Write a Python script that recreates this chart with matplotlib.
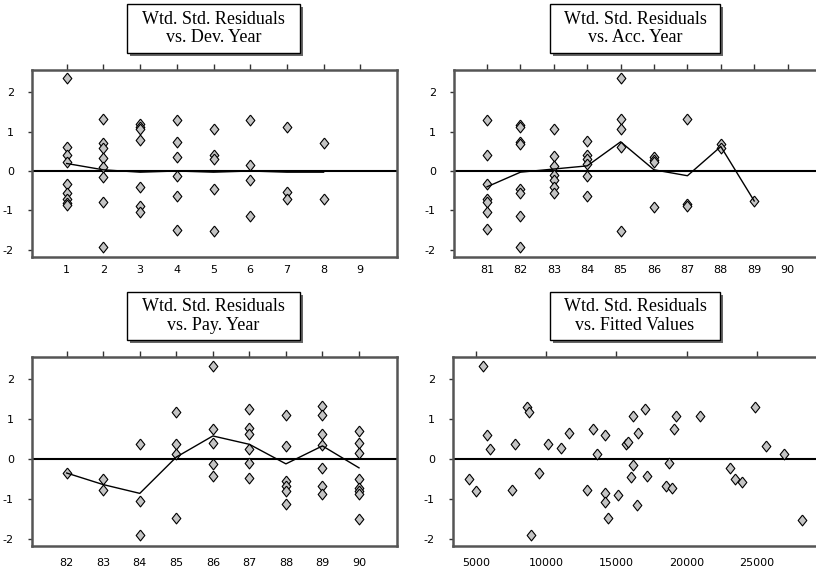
import matplotlib
matplotlib.use("Agg")
import matplotlib.pyplot as plt
from matplotlib.patches import Rectangle

W, H = 816, 574

# residuals by development year
dev_year = [1] * 9 + [2] * 8 + [3] * 7 + [4] * 6 + [5] * 5 + [6] * 4 + [7] * 3 + [8] * 2
dev_resid = [2.35, 0.60, 0.40, 0.22, -0.33, -0.55, -0.72, -0.80, -0.87,
             1.33, 0.70, 0.58, 0.32, 0.11, -0.14, -0.79, -1.93,
             1.18, 1.12, 1.07, 0.78, -0.41, -0.88, -1.05,
             1.29, 0.74, 0.35, -0.13, -0.63, -1.49,
             1.07, 0.41, 0.31, -0.45, -1.53,
             1.29, 0.14, -0.24, -1.13,
             1.12, -0.54, -0.71,
             0.70, -0.71]
dev_line_x = [1, 2, 3, 4, 5, 6, 7, 8]
dev_line_y = [0.19, 0.03, -0.03, 0.0, -0.03, 0.0, -0.03, -0.03]

# residuals by accident year
acc_year = [81] * 7 + [82] * 8 + [83] * 7 + [84] * 6 + [85] * 5 + [86] * 4 + [87] * 3 + [88] * 2 + [89]
acc_resid = [1.29, 0.40, -0.33, -0.70, -0.78, -1.05, -1.48,
             1.17, 1.12, 0.74, 0.68, -0.45, -0.55, -1.13, -1.93,
             1.07, 0.39, 0.12, -0.10, -0.24, -0.40, -0.55,
             0.77, 0.40, 0.30, 0.18, -0.12, -0.63,
             2.35, 1.31, 1.06, 0.62, -1.52,
             0.36, 0.28, 0.22, -0.90,
             1.33, -0.83, -0.88,
             0.68, 0.59,
             -0.76]
acc_line_x = [81, 82, 83, 84, 85, 86, 87, 88, 89]
acc_line_y = [-0.40, -0.03, 0.05, 0.13, 0.74, 0.03, -0.12, 0.62, -0.76]

# residuals by payment year
pay_year = [82] + [83] * 2 + [84] * 3 + [85] * 4 + [86] * 5 + [87] * 6 + [88] * 6 + [89] * 7 + [90] * 8
pay_resid = [-0.35,
             -0.50, -0.78,
             0.38, -1.06, -1.90,
             1.18, 0.38, 0.12, -1.49,
             2.33, 0.75, 0.41, -0.13, -0.43,
             1.26, 0.77, 0.63, 0.25, -0.10, -0.47,
             1.10, 0.32, -0.55, -0.68, -0.80, -1.13,
             1.34, 1.10, 0.64, 0.35, -0.22, -0.68, -0.88,
             0.70, 0.40, 0.14, -0.49, -0.72, -0.80, -0.88, -1.50]
pay_line_x = [82, 83, 84, 85, 86, 87, 88, 89, 90]
pay_line_y = [-0.35, -0.64, -0.86, 0.05, 0.58, 0.37, -0.12, 0.33, -0.22]

# residuals against fitted values
fitted = [4500, 5000, 5520, 5810, 6000, 7560, 7820, 8630, 8770, 8960, 9500,
          10140, 11040, 11610, 12890, 13340, 13630, 14170, 14220, 14220, 14430,
          15100, 15660, 15830, 16020, 16160, 16210, 16470, 16540, 17010, 17200,
          18560, 18740, 18960, 19120, 19220, 20950, 23080, 23440, 23910, 24830,
          25640, 26920, 28200]
fit_resid = [-0.51, -0.81, 2.33, 0.61, 0.25, -0.77, 0.37, 1.30, 1.17, -1.90, -0.35,
             0.37, 0.29, 0.66, -0.77, 0.75, 0.12, 0.61, -0.85, -1.07, -1.49,
             -0.89, 0.37, 0.44, -0.46, 1.08, -0.14, -1.15, 0.66, 1.26, -0.42,
             -0.68, -0.10, -0.73, 0.75, 1.08, 1.08, -0.22, -0.51, -0.58, 1.30,
             0.33, 0.12, -1.53]

plt.rcParams['axes.unicode_minus'] = False
plt.rcParams['font.family'] = 'DejaVu Sans'

# thin diamond used for every point
diamond = [(0, 1), (0.8, 0), (0, -1), (-0.8, 0), (0, 1)]

fig = plt.figure(figsize=(W / 100, H / 100), dpi=100)


def px_rect(x0, y0, x1, y1):
    # pixel box (from top-left) -> figure fraction rect
    return [x0 / W, 1 - y1 / H, (x1 - x0) / W, (y1 - y0) / H]


def panel(rect, xs, ys, xlim, ticks, line_x=None, line_y=None, pad=4):
    ax = fig.add_axes(px_rect(*rect))
    ax.axhline(0, color='black', lw=1.5, zorder=2)
    ax.plot(xs, ys, linestyle='none', marker=diamond, markersize=7.8,
            markerfacecolor='#c4c4c4', markeredgecolor='black',
            markeredgewidth=0.8, zorder=3)
    if line_x is not None:
        ax.plot(line_x, line_y, color='black', lw=1.0, zorder=4)
    ax.set_xlim(*xlim)
    ax.set_ylim(-2.18, 2.56)
    ax.set_xticks(ticks)
    ax.set_xticklabels([str(t) for t in ticks])
    ax.set_yticks([-2, -1, 0, 1, 2])
    ax.tick_params(axis='x', top=True, bottom=False, labeltop=False, labelbottom=True,
                   direction='out', length=4, width=1, color='#333333',
                   labelsize=8, pad=pad)
    ax.tick_params(axis='y', direction='out', length=3, width=1, color='#333333',
                   labelsize=8, pad=10)
    for sp in ax.spines.values():
        sp.set_color('#555555')
        sp.set_linewidth(1.8)
    return ax


def title_box(x0, y0, x1, y1, text):
    # drop shadow first, then the white box on top
    fig.patches.append(Rectangle((x0 / W + 3 / W, 1 - y1 / H - 3 / H), (x1 - x0) / W, (y1 - y0) / H,
                                 transform=fig.transFigure, facecolor='#666666',
                                 edgecolor='none', zorder=5))
    fig.patches.append(Rectangle((x0 / W, 1 - y1 / H), (x1 - x0) / W, (y1 - y0) / H,
                                 transform=fig.transFigure, facecolor='white',
                                 edgecolor='black', lw=1.0, zorder=6))
    fig.text((x0 + x1) / 2 / W, 1 - (y0 + y1) / 2 / H, text, ha='center', va='center',
             family='Liberation Serif', size=13, linespacing=1.15, zorder=7)


panel((32, 70, 397, 257), dev_year, dev_resid, (0.054, 10.0), range(1, 10),
      dev_line_x, dev_line_y, pad=2)
ax2 = panel((454, 70, 820, 257), acc_year, acc_resid, (80.01, 90.97), range(81, 91),
            acc_line_x, acc_line_y, pad=2)
panel((32, 357, 397, 546), pay_year, pay_resid, (81.05, 91.04), range(82, 91),
      pay_line_x, pay_line_y, pad=5)
ax4 = panel((453, 357, 820, 546), fitted, fit_resid, (3386, 29480),
            [5000, 10000, 15000, 20000, 25000], pad=5)
ax2.spines['right'].set_visible(False)
ax4.spines['right'].set_visible(False)

title_box(127, 4, 300, 53, "Wtd. Std. Residuals\nvs. Dev. Year")
title_box(550, 4, 720, 53, "Wtd. Std. Residuals\nvs. Acc. Year")
title_box(127, 292, 300, 340, "Wtd. Std. Residuals\nvs. Pay. Year")
title_box(550, 292, 720, 340, "Wtd. Std. Residuals\nvs. Fitted Values")

fig.savefig('out.png', dpi=100)
